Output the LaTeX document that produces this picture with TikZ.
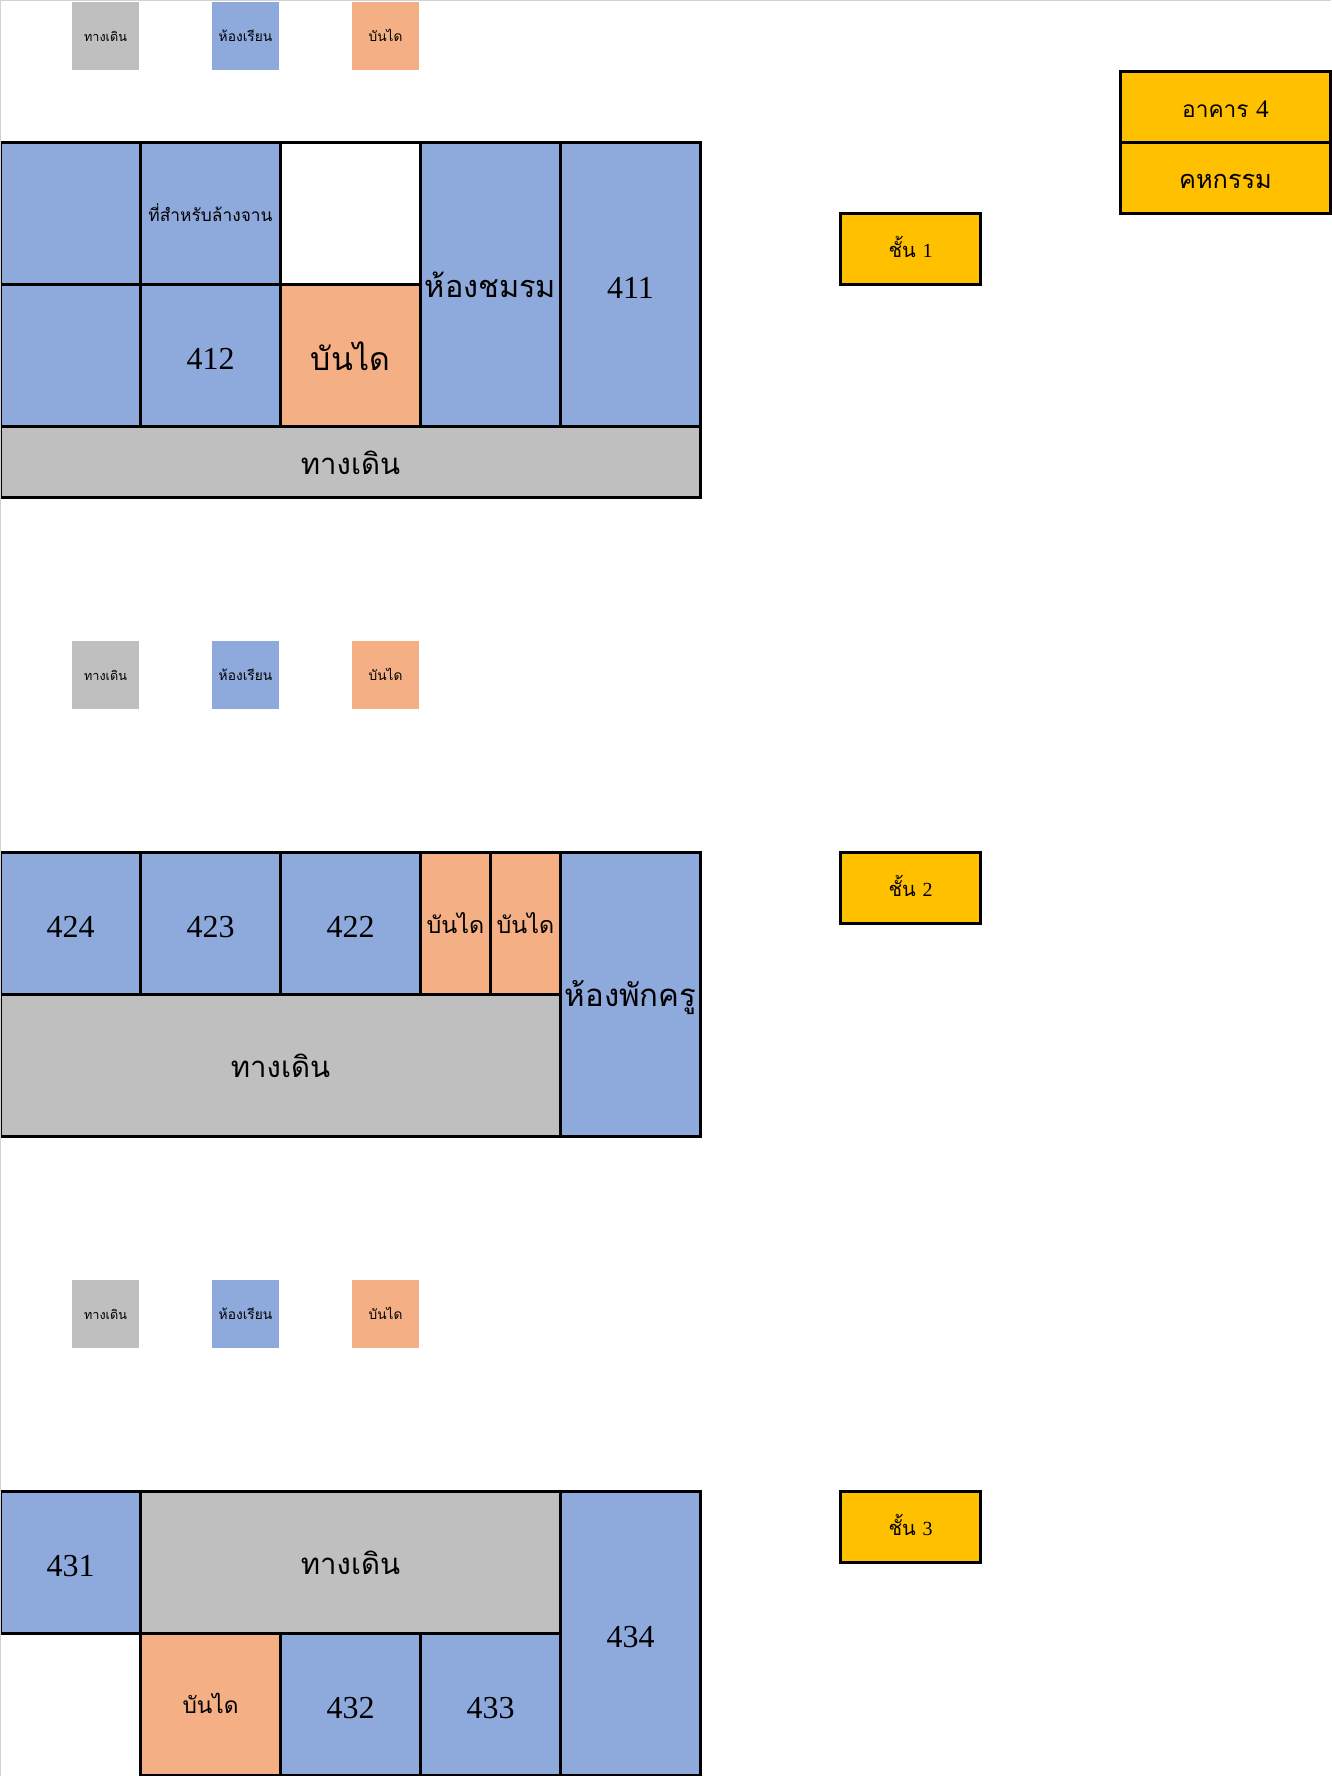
\documentclass[tikz,border=0pt]{standalone}
\usepackage{fontspec}
\setmainfont{Liberation Serif}
\newfontfamily\thaifont[Script=Thai]{Loma}
\definecolor{roomblue}{HTML}{8EA9DB}
\definecolor{stairorange}{HTML}{F4B084}
\definecolor{walkgray}{HTML}{BFBFBF}
\definecolor{floorgold}{HTML}{FFC000}
\tikzset{
  cell/.style={draw=black, line width=2.4pt, inner sep=0pt, minimum width=105pt, minimum height=106.5pt, align=center},
  room/.style={cell, fill=roomblue},
  stair/.style={cell, fill=stairorange},
  walk/.style={cell, fill=walkgray},
  tag/.style={cell, fill=floorgold, minimum height=53.25pt},
  key/.style={inner sep=0pt, minimum width=50.25pt, minimum height=51pt},
  numtext/.style={font=\fontsize{24}{24}\selectfont, text height=21.4pt, text depth=0pt},
  thai/.style 2 args={font=\thaifont\fontsize{#1}{#1}\selectfont, text height=#2, text depth=0pt}
}
\begin{document}
\begin{tikzpicture}[x=0.75pt, y=-0.75pt]
        \useasboundingbox (0,0) rectangle (1331,1776);

        % Legends of the three floors
        \foreach \i/\dy in {1/0, 2/639, 3/1278} {
            \node[key, fill=walkgray, thai={9.5}{8.7pt}] (keywalk-\i) at (105.5, 36+\dy) {ทางเดิน};
            \node[key, fill=roomblue, thai={10.3}{8.7pt}] (keyroom-\i) at (245.5, 36+\dy) {ห้องเรียน};
            \node[key, fill=stairorange, thai={10.3}{8.7pt}] (keystair-\i) at (385.5, 36+\dy) {บันได};
        }

        % Building name
        \node[tag, minimum width=157.5pt, thai={17}{15.6pt}] (building) at (1225.5, 107) {อาคาร {\rmfamily\fontsize{19}{19}\selectfont 4}};
        \node[tag, minimum width=157.5pt, thai={19}{16pt}] (activity) at (1225.5, 178) {คหกรรม};

        % Floor tags
        \node[tag, thai={15}{12.4pt}] (floor-1) at (910.5, 249) {ชั้น {\rmfamily 1}};
        \node[tag, thai={15}{12.4pt}] (floor-2) at (910.5, 888) {ชั้น {\rmfamily 2}};
        \node[tag, thai={15}{12.4pt}] (floor-3) at (910.5, 1527) {ชั้น {\rmfamily 3}};

        % Floor 1
        \node[room] (r1a) at (70.5, 213.5) {};
        \node[room, thai={13}{12pt}] (sink) at (210.5, 213.5) {ที่สำหรับล้างจาน};
        \node[cell, fill=white] (empty1) at (350.5, 213.5) {};
        \node[room] (r1b) at (70.5, 355.5) {};
        \node[room, numtext] (r412) at (210.5, 355.5) {412};
        \node[stair, thai={24}{22pt}] (stair1) at (350.5, 355.5) {บันได};
        \node[room, minimum height=213pt, thai={23}{20pt}] (club) at (490.5, 284.5) {ห้องชมรม};
        \node[room, minimum height=213pt, numtext] (r411) at (630.5, 284.5) {411};
        \node[walk, minimum width=525pt, minimum height=53.25pt, thai={22}{18pt}] (walk1) at (350.5, 462) {ทางเดิน};

        % Floor 2
        \node[room, numtext] (r424) at (70.5, 923.5) {424};
        \node[room, numtext] (r423) at (210.5, 923.5) {423};
        \node[room, numtext] (r422) at (350.5, 923.5) {422};
        \node[stair, minimum width=52.5pt, thai={17.5}{15.6pt}] (stair2a) at (455.5, 923.5) {บันได};
        \node[stair, minimum width=52.5pt, thai={17.5}{15.6pt}] (stair2b) at (525.5, 923.5) {บันได};
        \node[room, minimum height=213pt, thai={23.4}{17.5pt}] (staff) at (630.5, 994.5) {ห้องพักครู};
        \node[walk, minimum width=420pt, thai={22}{18pt}] (walk2) at (280.5, 1065.5) {ทางเดิน};

        % Floor 3
        \node[room, numtext] (r431) at (70.5, 1562.5) {431};
        \node[walk, minimum width=315pt, thai={22}{18pt}] (walk3) at (350.5, 1562.5) {ทางเดิน};
        \node[stair, thai={17}{14.2pt}] (stair3) at (210.5, 1704.5) {บันได};
        \node[room, numtext] (r432) at (350.5, 1704.5) {432};
        \node[room, numtext] (r433) at (490.5, 1704.5) {433};
        \node[room, minimum height=213pt, numtext] (r434) at (630.5, 1633.5) {434};

        % Page edge
        \draw[gray!35, line width=0.75pt] (0.5,1776) -- (0.5,0.5) -- (1331,0.5);
\end{tikzpicture}
\end{document}
